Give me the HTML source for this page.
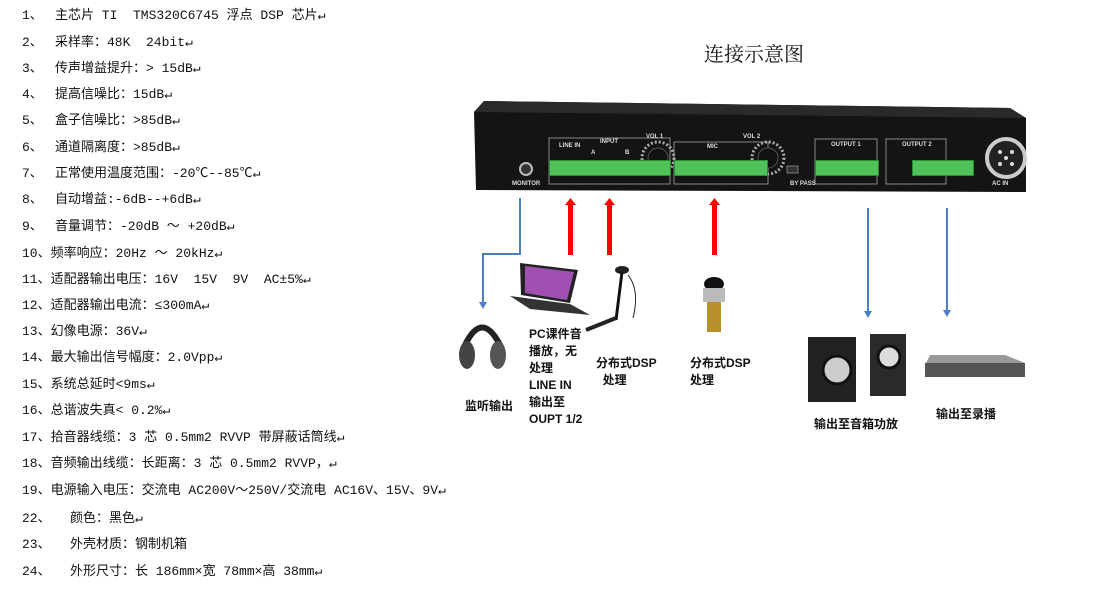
<!DOCTYPE html>
<html><head><meta charset="utf-8"><style>
body{margin:0;width:1111px;height:591px;background:#fff;position:relative;overflow:hidden;font-family:"Liberation Mono","Noto Sans CJK SC",monospace;}
.l{position:absolute;font-size:13px;color:#111;white-space:nowrap;line-height:16px}
.n{position:absolute;left:22px}
.t{position:absolute}
.c{position:absolute;font-family:"Liberation Sans","Noto Sans CJK SC",sans-serif;font-size:12px;font-weight:bold;color:#111;line-height:17px;white-space:nowrap}
.w{position:absolute;color:#ddd;font-family:"Liberation Sans",sans-serif;font-size:6px;font-weight:bold;white-space:nowrap}
.g{position:absolute;background:#4fc25a;height:14px;border:1px solid #2a8a35}
</style></head><body>
<div class="l" style="top:8px"><span class="n">1、</span><span class="t" style="left:55px">主芯片 TI&nbsp; TMS320C6745 浮点 DSP 芯片↵</span></div>
<div class="l" style="top:35px"><span class="n">2、</span><span class="t" style="left:55px">采样率：48K&nbsp; 24bit↵</span></div>
<div class="l" style="top:61px"><span class="n">3、</span><span class="t" style="left:55px">传声增益提升：&gt; 15dB↵</span></div>
<div class="l" style="top:87px"><span class="n">4、</span><span class="t" style="left:55px">提高信噪比：15dB↵</span></div>
<div class="l" style="top:113px"><span class="n">5、</span><span class="t" style="left:55px">盒子信噪比：&gt;85dB↵</span></div>
<div class="l" style="top:140px"><span class="n">6、</span><span class="t" style="left:55px">通道隔离度：&gt;85dB↵</span></div>
<div class="l" style="top:166px"><span class="n">7、</span><span class="t" style="left:55px">正常使用温度范围：-20℃--85℃↵</span></div>
<div class="l" style="top:192px"><span class="n">8、</span><span class="t" style="left:55px">自动增益:-6dB--+6dB↵</span></div>
<div class="l" style="top:219px"><span class="n">9、</span><span class="t" style="left:55px">音量调节：-20dB ～ +20dB↵</span></div>
<div class="l" style="top:246px"><span class="n">10、频率响应：20Hz ～ 20kHz↵</span></div>
<div class="l" style="top:272px"><span class="n">11、适配器输出电压：16V&nbsp; 15V&nbsp; 9V&nbsp; AC±5%↵</span></div>
<div class="l" style="top:298px"><span class="n">12、适配器输出电流：≤300mA↵</span></div>
<div class="l" style="top:324px"><span class="n">13、幻像电源：36V↵</span></div>
<div class="l" style="top:350px"><span class="n">14、最大输出信号幅度：2.0Vpp↵</span></div>
<div class="l" style="top:377px"><span class="n">15、系统总延时&lt;9ms↵</span></div>
<div class="l" style="top:403px"><span class="n">16、总谐波失真&lt; 0.2%↵</span></div>
<div class="l" style="top:430px"><span class="n">17、拾音器线缆：3 芯 0.5mm2 RVVP 带屏蔽话筒线↵</span></div>
<div class="l" style="top:456px"><span class="n">18、音频输出线缆：长距离：3 芯 0.5mm2 RVVP，↵</span></div>
<div class="l" style="top:483px"><span class="n">19、电源输入电压：交流电 AC200V～250V/交流电 AC16V、15V、9V↵</span></div>
<div class="l" style="top:511px"><span class="n">22、</span><span class="t" style="left:70px">颜色：黑色↵</span></div>
<div class="l" style="top:537px"><span class="n">23、</span><span class="t" style="left:70px">外壳材质：钢制机箱</span></div>
<div class="l" style="top:564px"><span class="n">24、</span><span class="t" style="left:70px">外形尺寸：长 186mm×宽 78mm×高 38mm↵</span></div>

<div style="position:absolute;left:704px;top:38px;font-family:'Noto Serif CJK SC',serif;font-size:20px;color:#111">连接示意图</div>

<svg style="position:absolute;left:0;top:0" width="1111" height="591">
<polygon points="484,101 1010,108 1026,118 1026,192 476,190 474,112" fill="#141414"/>
<polygon points="484,101 1010,108 1026,118 474,112" fill="#2a2a2a"/>
<circle cx="526" cy="169" r="6" fill="#333" stroke="#bbb" stroke-width="2"/>
<circle cx="1006" cy="158" r="19" fill="#222" stroke="#ccc" stroke-width="4"/>
<g fill="#ddd"><circle cx="1000" cy="152" r="2"/><circle cx="1012" cy="152" r="2"/><circle cx="1000" cy="164" r="2"/><circle cx="1012" cy="164" r="2"/><circle cx="1006" cy="158" r="2"/></g>
<g fill="none" stroke="#888" stroke-width="1">
<rect x="549" y="138" width="121" height="46"/><rect x="674" y="142" width="94" height="42"/>
<rect x="815" y="139" width="62" height="45"/><rect x="886" y="139" width="60" height="45"/></g>
<circle cx="658" cy="158" r="16" fill="none" stroke="#aaa" stroke-width="3" stroke-dasharray="2 2"/>
<circle cx="658" cy="158" r="10" fill="#111" stroke="#555"/>
<circle cx="768" cy="158" r="16" fill="none" stroke="#aaa" stroke-width="3" stroke-dasharray="2 2"/>
<circle cx="768" cy="158" r="10" fill="#111" stroke="#555"/>
<rect x="787" y="166" width="11" height="7" fill="#333" stroke="#777"/>
<polyline points="520,198 520,254 483,254 483,303" fill="none" stroke="#4a7fc1" stroke-width="2"/>
<polygon points="479,302 487,302 483,309" fill="#4a7fc1"/>
<line x1="868" y1="208" x2="868" y2="313" stroke="#4a7fc1" stroke-width="2"/><polygon points="864,311 872,311 868,318" fill="#4a7fc1"/>
<line x1="947" y1="208" x2="947" y2="312" stroke="#4a7fc1" stroke-width="2"/><polygon points="943,310 951,310 947,317" fill="#4a7fc1"/>
<g fill="#f00"><rect x="568" y="204" width="5" height="51"/><polygon points="565,205 576,205 570.5,198"/>
<rect x="607" y="204" width="5" height="51"/><polygon points="604,205 615,205 609.5,198"/>
<rect x="712" y="204" width="5" height="51"/><polygon points="709,205 720,205 714.5,198"/></g>
<path d="M465,345 Q482,310 500,345" fill="none" stroke="#222" stroke-width="6"/>
<ellipse cx="467" cy="355" rx="8" ry="14" fill="#444"/><ellipse cx="498" cy="355" rx="8" ry="14" fill="#555"/>
<polygon points="520,263 578,270 570,303 521,295" fill="#222"/><polygon points="525,266 574,272 567,300 525,293" fill="#a050b0"/>
<polygon points="510,296 570,304 590,315 530,309" fill="#333"/>
<ellipse cx="622" cy="270" rx="7" ry="4" fill="#222"/>
<path d="M622,272 L616,320" stroke="#111" stroke-width="3"/><path d="M628,275 Q640,290 633,318" stroke="#222" fill="none"/>
<path d="M616,318 L586,330" stroke="#222" stroke-width="4"/>
<ellipse cx="714" cy="284" rx="10" ry="7" fill="#111"/>
<rect x="703" y="288" width="22" height="14" fill="#bbb"/><rect x="707" y="302" width="14" height="30" fill="#b8902a"/>
<rect x="808" y="337" width="48" height="65" fill="#222"/><circle cx="837" cy="370" r="14" fill="#ccc" stroke="#111" stroke-width="3"/>
<rect x="870" y="334" width="36" height="62" fill="#2a2a2a"/><circle cx="889" cy="357" r="11" fill="#ddd" stroke="#111" stroke-width="3"/>
<polygon points="930,355 1005,355 1025,363 925,365" fill="#999"/>
<rect x="925" y="363" width="100" height="14" fill="#555"/>
</svg>

<div class="w" style="left:559px;top:143px">LINE IN</div><div class="w" style="left:600px;top:139px">INPUT</div>
<div class="w" style="left:591px;top:150px">A</div><div class="w" style="left:625px;top:150px">B</div>
<div class="w" style="left:646px;top:134px">VOL 1</div><div class="w" style="left:707px;top:144px">MIC</div>
<div class="w" style="left:743px;top:134px">VOL 2</div><div class="w" style="left:790px;top:181px">BY PASS</div>
<div class="w" style="left:512px;top:181px">MONITOR</div>
<div class="w" style="left:831px;top:142px">OUTPUT 1</div><div class="w" style="left:902px;top:142px">OUTPUT 2</div>
<div class="w" style="left:992px;top:181px">AC IN</div>
<div class="g" style="left:549px;top:160px;width:120px"></div>
<div class="g" style="left:674px;top:160px;width:92px"></div>
<div class="g" style="left:815px;top:160px;width:62px"></div>
<div class="g" style="left:912px;top:160px;width:60px"></div>

<div class="c" style="left:465px;top:398px">监听输出</div>
<div class="c" style="left:529px;top:326px">PC课件音<br>播放，无<br>处理<br>LINE IN<br>输出至<br>OUPT 1/2</div>
<div class="c" style="left:596px;top:355px">分布式DSP<br>&nbsp;&nbsp;处理</div>
<div class="c" style="left:690px;top:355px">分布式DSP<br>处理</div>
<div class="c" style="left:814px;top:416px">输出至音箱功放</div>
<div class="c" style="left:936px;top:406px">输出至录播</div>
</body></html>
